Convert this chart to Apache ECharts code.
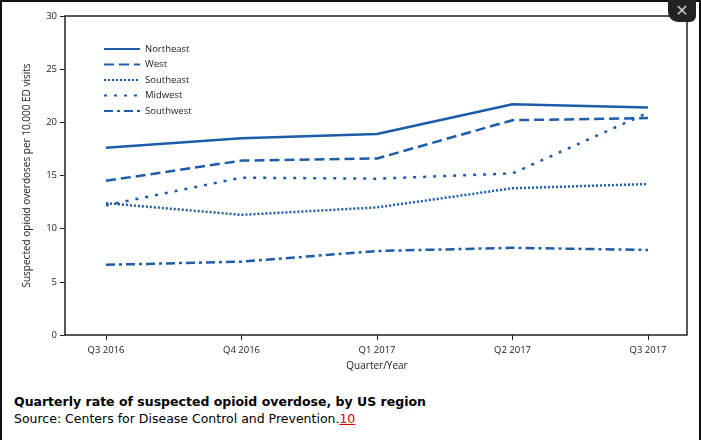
<!DOCTYPE html>
<html>
<head>
<meta charset="utf-8">
<script src="https://cdn.jsdelivr.net/npm/echarts@6/dist/echarts.min.js"></script>
<style>
  html, body { margin: 0; padding: 0; background: #fff; }
  #frame { position: absolute; left: 0; top: 0; width: 697px; height: 438px; border: 2px solid #111; border-bottom: none; }
  #chart { position: absolute; left: 0; top: 0; width: 701px; height: 380px; }
  #close { position: absolute; left: 668px; top: 0; width: 28px; height: 22px; background: #222; border-radius: 0 0 6px 10px; color: #ccc; font: bold 16px "DejaVu Sans", sans-serif; text-align: center; line-height: 22px; }
  #caption { position: absolute; left: 14px; top: 393px; font-family: "DejaVu Sans", Verdana, sans-serif; font-size: 12.5px; color: #000; line-height: 17px; }
  #caption b { font-weight: bold; }
  #caption a { color: #c00; }
</style>
</head>
<body>
<div id="frame"></div>
<div id="chart"></div>
<div id="close">✕</div>
<div id="caption"><b>Quarterly rate of suspected opioid overdose, by US region</b><br>Source: Centers for Disease Control and Prevention.<a href="#">10</a></div>
<script>
// quarters on the x axis
const quarters = ['Q3 2016', 'Q4 2016', 'Q1 2017', 'Q2 2017', 'Q3 2017'];
const yTicks = [0, 5, 10, 15, 20, 25, 30];

// rates per 10,000 ED visits
const northeast = [17.6, 18.5, 18.9, 21.7, 21.4];
const west = [14.5, 16.4, 16.6, 20.2, 20.4];
const southeast = [12.4, 11.3, 12.0, 13.8, 14.2];
const midwest = [12.2, 14.8, 14.7, 15.2, 20.9];
const southwest = [6.6, 6.9, 7.9, 8.2, 8.0];

const blue = '#1c5ca8';
const chart = echarts.init(document.getElementById('chart'));

function line(name, data, type, width) {
  return {
    name: name,
    type: 'line',
    data: data,
    symbol: 'none',
    lineStyle: { color: blue, width: width, type: type },
    itemStyle: { color: blue }
  };
}

chart.setOption({
  animation: false,
  textStyle: { fontFamily: 'Open Sans', color: '#222' },
  grid: { left: 106, right: 53, top: 16, bottom: 45 },
  graphic: [{
    type: 'rect',
    shape: { x: 65, y: 16, width: 622, height: 319 },
    style: { fill: 'none', stroke: '#222', lineWidth: 1.5 },
    silent: true
  }],
  legend: {
    orient: 'vertical',
    left: 98,
    top: 39,
    itemWidth: 36,
    itemHeight: 10,
    itemGap: 5.5,
    itemStyle: { opacity: 0 },
    textStyle: { fontSize: 9.5, color: '#222' },
    data: ['Northeast', 'West', 'Southeast', 'Midwest', 'Southwest']
  },
  xAxis: {
    type: 'category',
    data: quarters,
    boundaryGap: false,
    name: 'Quarter/Year',
    nameLocation: 'middle',
    nameGap: 26,
    nameTextStyle: { fontSize: 10 },
    axisLine: { show: false },
    axisTick: { show: true, alignWithLabel: true, length: 5, lineStyle: { color: '#222' } },
    axisLabel: { fontSize: 9.5, color: '#222', margin: 10 },
    splitLine: { show: false }
  },
  yAxis: {
    type: 'value',
    min: yTicks[0],
    max: yTicks[yTicks.length - 1],
    interval: 5,
    offset: 41,
    name: 'Suspected opioid overdoses per 10,000 ED visits',
    nameLocation: 'middle',
    nameGap: 33,
    nameTextStyle: { fontSize: 10 },
    axisLine: { show: false },
    axisTick: { show: true, length: 5, lineStyle: { color: '#222' } },
    axisLabel: { fontSize: 9.5, color: '#222', margin: 8 },
    splitLine: { show: false }
  },
  series: [
    line('Northeast', northeast, 'solid', 2.5),
    line('West', west, [10, 5], 2.5),
    line('Southeast', southeast, [2, 2], 2.5),
    line('Midwest', midwest, [3, 7], 2.5),
    line('Southwest', southwest, [9, 4, 3, 4], 2.5)
  ]
});
</script>
</body>
</html>
